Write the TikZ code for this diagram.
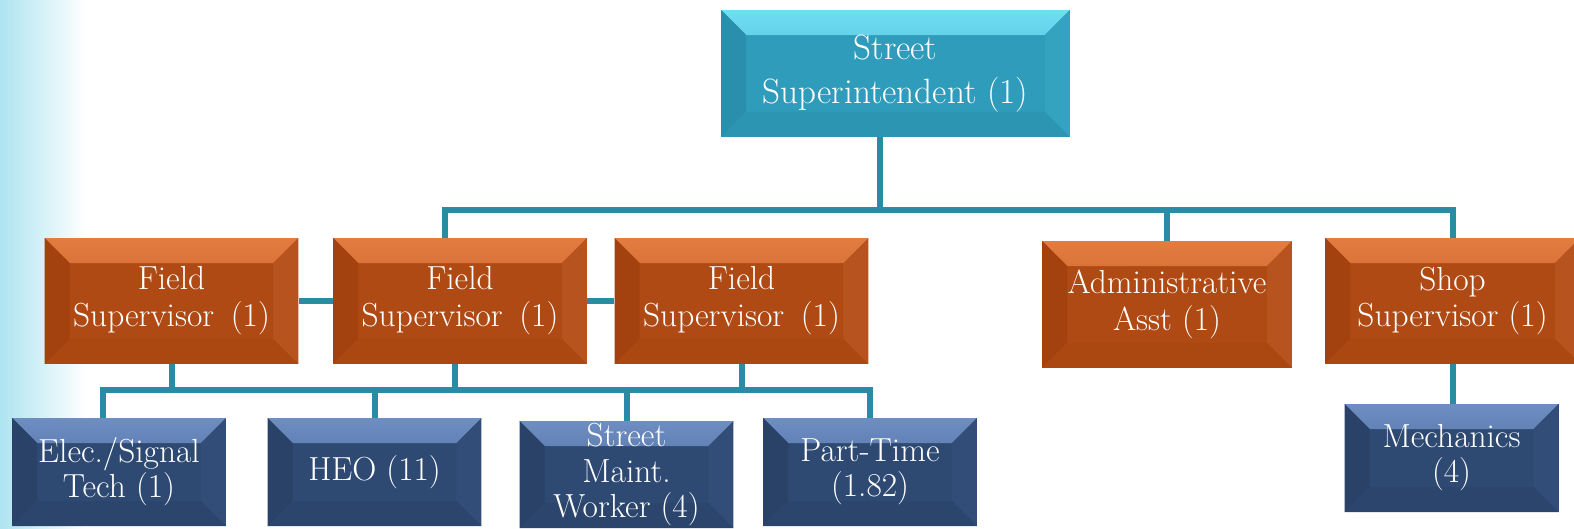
\documentclass[tikz,border=0pt]{standalone}
\definecolor{edgeblue}{HTML}{AEE4F1}
\definecolor{linkteal}{HTML}{2A8BA5}
\definecolor{tealmain}{HTML}{2E9CBA}
\definecolor{tealtopa}{HTML}{6FDDF2}
\definecolor{tealtopb}{HTML}{36A8C4}
\definecolor{tealleft}{HTML}{2A8FAC}
\definecolor{tealright}{HTML}{33A3BF}
\definecolor{tealbot}{HTML}{2C96B2}
\definecolor{orgmain}{HTML}{B04A14}
\definecolor{orgtopa}{HTML}{E27C40}
\definecolor{orgtopb}{HTML}{B9521A}
\definecolor{orgleft}{HTML}{A4420F}
\definecolor{orgright}{HTML}{B7531E}
\definecolor{orgbot}{HTML}{AB4711}
\definecolor{bluemain}{HTML}{2E4A73}
\definecolor{bluetopa}{HTML}{6E8DC2}
\definecolor{bluetopb}{HTML}{3D5C8C}
\definecolor{blueleft}{HTML}{2A4268}
\definecolor{blueright}{HTML}{324D77}
\definecolor{bluebot}{HTML}{2B456C}
\newcommand{\bv}{0.5cm}
\newcommand{\ppb}{path picture bounding box}
\tikzset{
  bevel/.style n args={5}{path picture={
    \fill[top color=#1,bottom color=#2] (\ppb.north west) -- (\ppb.north east)
      -- ([xshift=-\bv,yshift=-\bv]\ppb.north east) -- ([xshift=\bv,yshift=-\bv]\ppb.north west) -- cycle;
    \fill[#3] (\ppb.north west) -- ([xshift=\bv,yshift=-\bv]\ppb.north west)
      -- ([xshift=\bv,yshift=\bv]\ppb.south west) -- (\ppb.south west) -- cycle;
    \fill[#4] (\ppb.north east) -- ([xshift=-\bv,yshift=-\bv]\ppb.north east)
      -- ([xshift=-\bv,yshift=\bv]\ppb.south east) -- (\ppb.south east) -- cycle;
    \fill[#5] (\ppb.south west) -- ([xshift=\bv,yshift=\bv]\ppb.south west)
      -- ([xshift=-\bv,yshift=\bv]\ppb.south east) -- (\ppb.south east) -- cycle;
  }},
  box/.style={inner sep=0pt, align=center, text=white, font=\fontsize{19}{21}\selectfont},
  tealbox/.style={box, fill=tealmain, bevel={tealtopa}{tealtopb}{tealleft}{tealright}{tealbot},
    minimum width=6.98cm, minimum height=2.54cm, font=\fontsize{20}{25}\selectfont},
  orgbox/.style={box, fill=orgmain, bevel={orgtopa}{orgtopb}{orgleft}{orgright}{orgbot},
    minimum width=5.08cm, minimum height=2.52cm},
  bluebox/.style={box, fill=bluemain, bevel={bluetopa}{bluetopb}{blueleft}{blueright}{bluebot},
    minimum width=4.28cm, minimum height=2.16cm, font=\fontsize{19}{20}\selectfont},
  link/.style={draw=linkteal, line width=0.12cm}
}
\begin{document}
\begin{tikzpicture}[x=0.02cm,y=-0.02cm]
  \useasboundingbox (0,0) rectangle (1574,528);
  \shade[left color=edgeblue, right color=white] (0,0) rectangle (86,528);

  \node[tealbox] (super) at (895.5,73.5) {Street\\Superintendent (1)};

  \node[orgbox] (field1) at (171.5,301) {Field\\Supervisor\hspace{0.5em}(1)};
  \node[orgbox] (field2) at (460,301) {Field\\Supervisor\hspace{0.5em}(1)};
  \node[orgbox] (field3) at (741.5,301) {Field\\Supervisor\hspace{0.5em}(1)};
  \node[orgbox, minimum width=5.0cm, minimum height=2.54cm] (admin) at (1167,304.5) {Administrative\\Asst (1)};
  \node[orgbox, minimum width=5.1cm] (shop) at (1452.5,301) {Shop\\Supervisor (1)};

  \node[bluebox] (elec) at (119,472) {Elec./Signal\\Tech (1)};
  \node[bluebox] (heo) at (374.5,472) {HEO (11)};
  \node[bluebox, minimum height=2.14cm] (street) at (626.5,474.5) {Street\\Maint.\\Worker (4)};
  \node[bluebox] (part) at (870,472) {Part-Time\\(1.82)};
  \node[bluebox] (mech) at (1451.5,458) {Mechanics\\(4)};

  \coordinate (hub) at (880,210);
  \coordinate (hub2) at (455,390);

  \begin{scope}[link]
    \draw (super.south -| hub) -- (hub);
    \draw ([xshift=-0.3cm]field2.north) |- (hub) -| (shop.north);
    \draw (admin.north) -- (admin.north |- hub);
    \draw (field1) -- (field2);
    \draw (field2) -- (field3);
    \draw (field1.south) -- (field1.south |- hub2);
    \draw (field2.south -| hub2) -- (hub2);
    \draw (field3.south) -- (field3.south |- hub2);
    \draw ([xshift=-0.32cm]elec.north) |- (part.north |- hub2) -- (part.north);
    \draw (heo.north) -- (heo.north |- hub2);
    \draw (street.north) -- (street.north |- hub2);
    \draw (shop.south) -- (shop.south |- mech.north);
  \end{scope}
\end{tikzpicture}
\end{document}
